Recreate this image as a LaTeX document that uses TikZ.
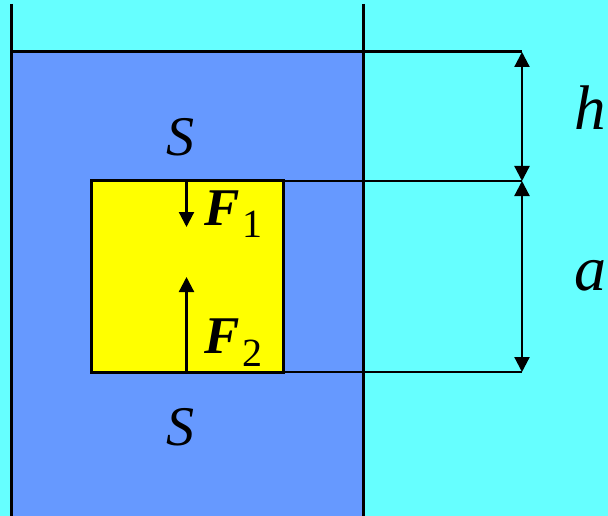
\documentclass[tikz,border=0pt]{standalone}
\usepackage{fontspec}
\setmainfont{Liberation Serif}
\usetikzlibrary{arrows.meta}
\definecolor{water}{HTML}{66FFFF}
\definecolor{liquid}{HTML}{6699FF}
\definecolor{cubecol}{HTML}{FFFF00}
\tikzset{
  wall/.style={line width=3pt},
  dimline/.style={line width=2.2pt},
  dimarrow/.style={line width=2.2pt, {Triangle[length=15pt,width=15pt]}-{Triangle[length=15pt,width=15pt]}},
  force/.style={line width=2.2pt, -{Triangle[length=15pt,width=15pt]}},
  lbl/.style={inner sep=0pt, anchor=base},
}
\begin{document}
\begin{tikzpicture}[x=1pt,y=-1pt]
\fill[water] (0,0) rectangle (608,516);
\useasboundingbox (0,0) rectangle (608,516);
\fill[liquid] (11,52) rectangle (363,516);
\coordinate (wlt) at (11,4);
\coordinate (wlb) at (11,516);
\coordinate (wrt) at (363,4);
\coordinate (wrb) at (363,516);
\draw[wall] (wlt) -- (wlb);
\draw[wall] (wrt) -- (wrb);
\coordinate (surfL) at (11,52);
\coordinate (surfR) at (522,52);
\draw[wall] (surfL) -- (surfR);
\node[draw, fill=cubecol, line width=3pt, minimum width=192pt, minimum height=191pt, inner sep=0pt, outer sep=0pt, anchor=north west] (cube) at (91,181) {};
\coordinate (dtop) at (522,181);
\coordinate (dbot) at (522,372);
\draw[dimline] (cube.north east) -- (dtop);
\draw[dimline] (cube.south east) -- (dbot);
\draw[dimarrow] (surfR) -- (dtop);
\draw[dimarrow] (dtop) -- (dbot);
\coordinate (f1s) at (186.5,181);
\coordinate (f1e) at (186.5,227);
\coordinate (f2s) at (186.5,372);
\coordinate (f2e) at (186.5,277);
\draw[force] (f1s) -- (f1e);
\draw[force] (f2s) -- (f2e);
\node[lbl, anchor=base west] (F1) at (204,225) {\fontsize{53}{60}\selectfont\textbf{\textit{F}}\kern3pt\raisebox{-13pt}{\fontsize{40}{40}\selectfont 1}};
\node[lbl, anchor=base west] (F2) at (204,353) {\fontsize{53}{60}\selectfont\textbf{\textit{F}}\kern3pt\raisebox{-13pt}{\fontsize{40}{40}\selectfont 2}};
\node[lbl] (S1) at (180,156) {\fontsize{56}{60}\selectfont\textit{S}};
\node[lbl] (S2) at (180,445) {\fontsize{56}{60}\selectfont\textit{S}};
\node[lbl] (h) at (590,130) {\fontsize{63}{66}\selectfont\textit{h}};
\node[lbl] (a) at (590,290) {\fontsize{64}{66}\selectfont\textit{a}};
\end{tikzpicture}
\end{document}
